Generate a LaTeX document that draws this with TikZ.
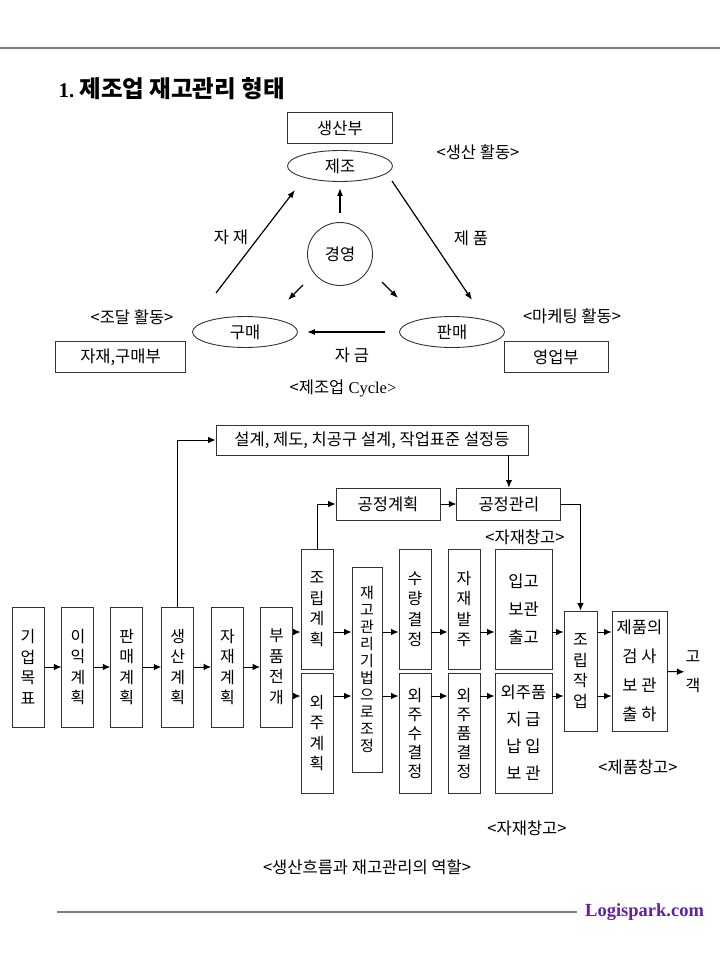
\documentclass[tikz,border=0pt]{standalone}
\usepackage{fontspec}
\setmainfont{Liberation Serif}
\newfontfamily\kr{Noto Sans CJK KR}
\usetikzlibrary{shapes.geometric, arrows.meta, positioning}
\definecolor{rulegray}{RGB}{128,128,128}
\definecolor{logipurple}{RGB}{96,32,168}

\begin{document}
\begin{tikzpicture}[
  x=1pt, y=-1pt,
  node distance=16pt,
  lbl/.style={font=\kr\fontsize{16.5}{19}\selectfont, inner sep=1pt},
  hbox/.style={rectangle, draw=black!80, line width=0.9pt, minimum height=31pt,
               inner sep=0pt, lbl},
  oval/.style={ellipse, draw=black!80, line width=0.9pt, minimum width=105pt,
               minimum height=31pt, inner sep=0pt, lbl},
  vbox/.style={rectangle, draw=black!80, line width=0.9pt, minimum width=32pt,
               minimum height=120pt, inner sep=0pt, align=center,
               font=\kr\fontsize{16}{20.5}\selectfont},
  arrow/.style={-{Latex[length=8pt,width=6pt]}, line width=1.2pt},
  flow/.style={-{Latex[length=7.5pt,width=6.5pt]}, line width=1pt},
  rule/.style={draw=rulegray, line width=1.8pt}
]
\useasboundingbox (0,0) rectangle (720,960);

\coordinate (topL) at (0,48);
\coordinate (topR) at (720,48);
\draw[rule] (topL) -- (topR);
\node[anchor=west, font=\fontsize{21}{24}\selectfont] (title) at (55,89)
  {\textbf{1.}\ {\kr\fontsize{23.5}{26}\selectfont\bfseries 제조업 재고관리 형태}};

\node[hbox, minimum width=105pt] (prodept) at (340,128) {생산부};
\node[oval] (make) at (340,166) {제조};
\node[oval, minimum width=65pt, minimum height=63pt] (mgmt) at (340,254) {경영};
\node[oval] (buy) at (245,332) {구매};
\node[oval] (sell) at (452,332) {판매};
\node[hbox, minimum width=130pt] (matdept) at (120.5,357) {자재,구매부};
\node[hbox, minimum width=104pt] (saledept) at (556,357) {영업부};

\node[lbl] (prodact) at (478,152) {<생산 활동>};
\node[lbl] (buyact) at (132,317) {<조달 활동>};
\node[lbl] (mktact) at (572,316) {<마케팅 활동>};
\node[inner sep=1pt, font=\fontsize{16.5}{19}\selectfont] (cycle) at (343,388)
  {{\kr <제조업} Cycle>};

\coordinate (matA) at (216,293);
\coordinate (matB) at (295,190);
\coordinate (goodA) at (392,181);
\coordinate (goodB) at (472,300);
\coordinate (mgL1) at (303,285);
\coordinate (mgL2) at (288,300);
\coordinate (mgR1) at (382,282);
\coordinate (mgR2) at (398,298);

\draw[arrow] (matA) -- (matB);
\draw[arrow] (goodA) -- (goodB);
\draw[arrow] (mgL1) -- (mgL2);
\draw[arrow] (mgR1) -- (mgR2);
\draw[arrow, shorten <=9pt, shorten >=6pt] (mgmt) -- (make);
\draw[arrow, shorten <=14pt, shorten >=9pt] (sell) -- (buy);

\node[lbl] (matlbl) at (231,237) {자 재};
\node[lbl] (goodlbl) at (471,238) {제 품};
\node[lbl] (cashlbl) at (352,355) {자 금};

\node[hbox, minimum width=312pt, minimum height=30pt] (design) at (372,440)
  {설계, 제도, 치공구 설계, 작업표준 설정등};
\node[hbox, minimum width=104pt, minimum height=32pt] (procplan) at (388,504) {공정계획};
\node[hbox, minimum width=104pt, minimum height=32pt, right=of procplan] (procctl) {공정관리};

\node[vbox] (goal) at (28,667) {기\\업\\목\\표};
\node[vbox, right=17pt of goal] (profit) {이\\익\\계\\획};
\node[vbox, right=of profit] (salesplan) {판\\매\\계\\획};
\node[vbox, right=18pt of salesplan] (prodplan) {생\\산\\계\\획};
\node[vbox, right=17pt of prodplan] (matplan) {자\\재\\계\\획};
\node[vbox, right=of matplan] (parts) {부\\품\\전\\개};

\node[vbox] (asmplan) at (317,609) {조\\립\\계\\획};
\node[vbox] (outplan) at (317,733) {외\\주\\계\\획};
\node[vbox, minimum width=30pt, minimum height=205pt,
      font=\kr\fontsize{15}{17}\selectfont] (invctl) at (367,669.5)
  {재\\고\\관\\리\\기\\법\\으\\로\\조\\정};
\node[vbox] (qty) at (415,609) {수\\량\\결\\정};
\node[vbox, font=\kr\fontsize{16}{19}\selectfont] (outqty) at (415,733) {외\\주\\수\\결\\정};
\node[vbox] (order) at (464,609) {자\\재\\발\\주};
\node[vbox, font=\kr\fontsize{16}{19}\selectfont] (outsel) at (464,733) {외\\주\\품\\결\\정};
\node[vbox, minimum width=57pt, font=\kr\fontsize{16.5}{28}\selectfont] (stockin) at (523.5,609)
  {입고\\보관\\출고};
\node[vbox, minimum width=57pt, font=\kr\fontsize{16.5}{27}\selectfont] (outstock) at (523.5,733)
  {외주품\\지 급\\납 입\\보 관};
\node[vbox, minimum width=33pt] (asmwork) at (580.5,671) {조\\립\\작\\업};
\node[vbox, minimum width=55pt, font=\kr\fontsize{16.5}{29}\selectfont] (ship) at (639.5,671)
  {제품의\\검 사\\보 관\\출 하};
\node[align=center, inner sep=1pt, font=\kr\fontsize{16}{29}\selectfont] (cust) at (693,672)
  {고\\객};

\node[lbl] (stocklblA) at (525,537) {<자재창고>};
\node[lbl] (stocklblB) at (527,828) {<자재창고>};
\node[lbl] (storelbl) at (638,767) {<제품창고>};
\node[lbl] (caption) at (367,867) {<생산흐름과 재고관리의 역할>};

\foreach \a/\b in {goal/profit, profit/salesplan, salesplan/prodplan,
                   prodplan/matplan, matplan/parts, ship/cust}
  \draw[flow] (\a) -- (\b);

\coordinate (upY) at (0,632);
\coordinate (loY) at (0,696);
\foreach \a/\b in {parts/asmplan, asmplan/invctl, invctl/qty, qty/order,
                   order/stockin, stockin/asmwork, asmwork/ship}
  \draw[flow] (\a.east |- upY) -- (\b.west |- upY);
\foreach \a/\b in {parts/outplan, outplan/invctl, invctl/outqty, outqty/outsel,
                   outsel/outstock, outstock/asmwork, asmwork/ship}
  \draw[flow] (\a.east |- loY) -- (\b.west |- loY);

\draw[flow] (prodplan.north) |- (design.west);
\draw[flow] (design.south -| procctl) -- (procctl.north);
\draw[flow] (asmplan.north) |- (procplan.west);
\draw[flow] (procplan) -- (procctl);
\draw[flow] (procctl.east) -| (asmwork.north);

\coordinate (botL) at (57,912);
\coordinate (botR) at (577,912);
\draw[rule] (botL) -- (botR);
\node[anchor=west, inner sep=0pt, font=\fontsize{18.5}{20}\selectfont\bfseries,
      text=logipurple] (site) at (585,912) {Logispark.com};
\end{tikzpicture}
\end{document}
